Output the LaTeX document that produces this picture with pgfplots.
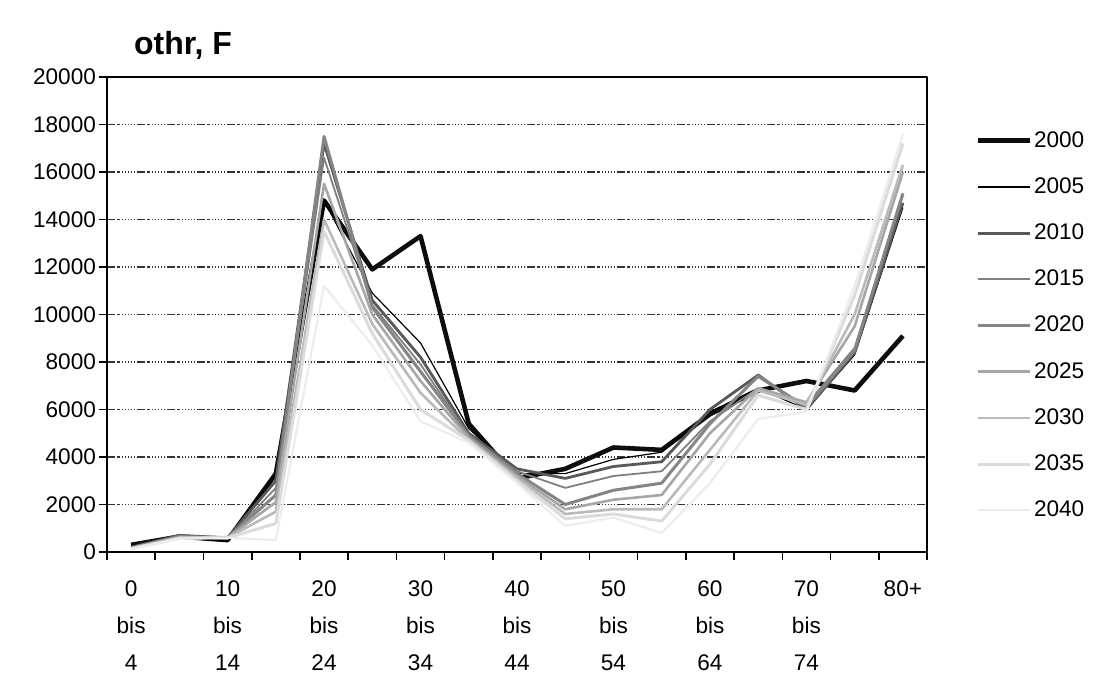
\documentclass[border=0pt]{standalone}
\usepackage{fontspec}
\setmainfont{Liberation Sans}
\usepackage{pgfplots}
\usepackage{pgfplotstable}
\pgfplotsset{compat=1.18}

% values, age groups 0..16 (0-4 ... 80+)
\pgfplotstableread{
x  a2000 a2005 a2010 a2015 a2020 a2025 a2030 a2035 a2040
0  300   250   200   180   170   160   150   140   130
1  650   600   700   650   650   620   600   580   560
2  500   450   600   550   600   600   600   600   600
3  3300  3200  3000  2700  2400  2100  1700  1200  500
4  14800 14800 17200 16600 17500 15500 14000 13500 11200
5  11900 10900 10600 10400 10300 10000 9600  9200  8700
6  13300 8800  8200  7900  7600  7200  6700  6000  5500
7  5400  5200  5000  4900  4900  4800  4700  4700  4600
8  3100  3300  3500  3400  3300  3200  3100  3000  2900
9  3500  3300  3100  2700  2000  1800  1600  1400  1100
10 4400  3900  3600  3200  2600  2200  1800  1600  1450
11 4300  4200  3800  3400  2900  2400  1800  1300  800
12 5800  5900  6000  5500  5400  5000  4300  3700  2900
13 6800  6900  7450  6900  7400  6900  6800  6600  5600
14 7200  6000  6000  6200  6100  6300  6200  6000  5900
15 6800  8300  8400  8600  8500  9500  10000 10800 11200
16 9100  14500 14700 15000 15100 16000 16300 17200 17600
}\data

\begin{document}
\begin{tikzpicture}
\begin{axis}[
    name=ax,
    scale only axis,
    width=410pt, height=237.5pt,
    xmin=-0.5, xmax=16.5,
    ymin=0, ymax=20000,
    ytick={0,2000,...,20000},
    xtick={-0.5,0.5,...,16.5},
    xticklabels={},
    extra x ticks={0,2,...,16},
    extra x tick labels={0\\bis\\4,10\\bis\\14,20\\bis\\24,30\\bis\\34,40\\bis\\44,50\\bis\\54,60\\bis\\64,70\\bis\\74,80+},
    extra x tick style={major tick length=0pt, grid=none},
    xticklabel style={align=center, font=\fontsize{11.3}{18.3}\selectfont, yshift=-11pt},
    yticklabel style={font=\fontsize{11.3}{13}\selectfont, xshift=2pt},
    scaled y ticks=false,
    /pgf/number format/1000 sep={},
    /pgf/number format/assume math mode=true,
    tick pos=left,
    tick align=outside,
    major tick length=4pt,
    tick style={black, line width=0.8pt},
    axis line style={black, line width=1.2pt},
    ymajorgrids=true,
    grid style={line width=0.7pt, color=black!80,
        dash pattern=on 4pt off 1pt on 1.5pt off 1pt on 0.5pt off 1pt on 0.5pt off 1pt on 0.5pt off 1pt on 0.5pt off 1pt on 0.5pt off 1pt},
    legend style={at={(1,1)}, anchor=north west, xshift=24pt, yshift=-26pt,
        draw=none, fill=none, font=\fontsize{11.3}{13}\selectfont,
        row sep=11.7pt, inner sep=0pt, nodes={inner sep=1pt}},
    legend cell align=left,
    legend image code/.code={\draw[#1] (0pt,0pt) -- (26pt,0pt);},
    line join=round,
]
\addplot[color=black!95, line width=2.3pt] table[x=x, y=a2000] {\data};
\addplot[color=black, line width=0.6pt] table[x=x, y=a2005] {\data};
\addplot[color=black!65, line width=1.4pt] table[x=x, y=a2010] {\data};
\addplot[color=black!50, line width=0.9pt] table[x=x, y=a2015] {\data};
\addplot[color=black!48, line width=1.5pt] table[x=x, y=a2020] {\data};
\addplot[color=black!35, line width=1.3pt] table[x=x, y=a2025] {\data};
\addplot[color=black!27, line width=1.3pt] table[x=x, y=a2030] {\data};
\addplot[color=black!14, line width=1.5pt] table[x=x, y=a2035] {\data};
\addplot[color=black!7, line width=1.1pt] table[x=x, y=a2040] {\data};
\legend{2000,2005,2010,2015,2020,2025,2030,2035,2040}
\end{axis}
\node[anchor=base west, font=\fontsize{16}{18}\selectfont\bfseries] at ([xshift=10pt,yshift=11pt]ax.north west) {othr, F};
\pgfresetboundingbox
\path[use as bounding box] ([xshift=-53.5pt,yshift=-60.5pt]ax.south west) rectangle ([xshift=87.5pt,yshift=38.5pt]ax.north east);
\end{tikzpicture}
\end{document}
